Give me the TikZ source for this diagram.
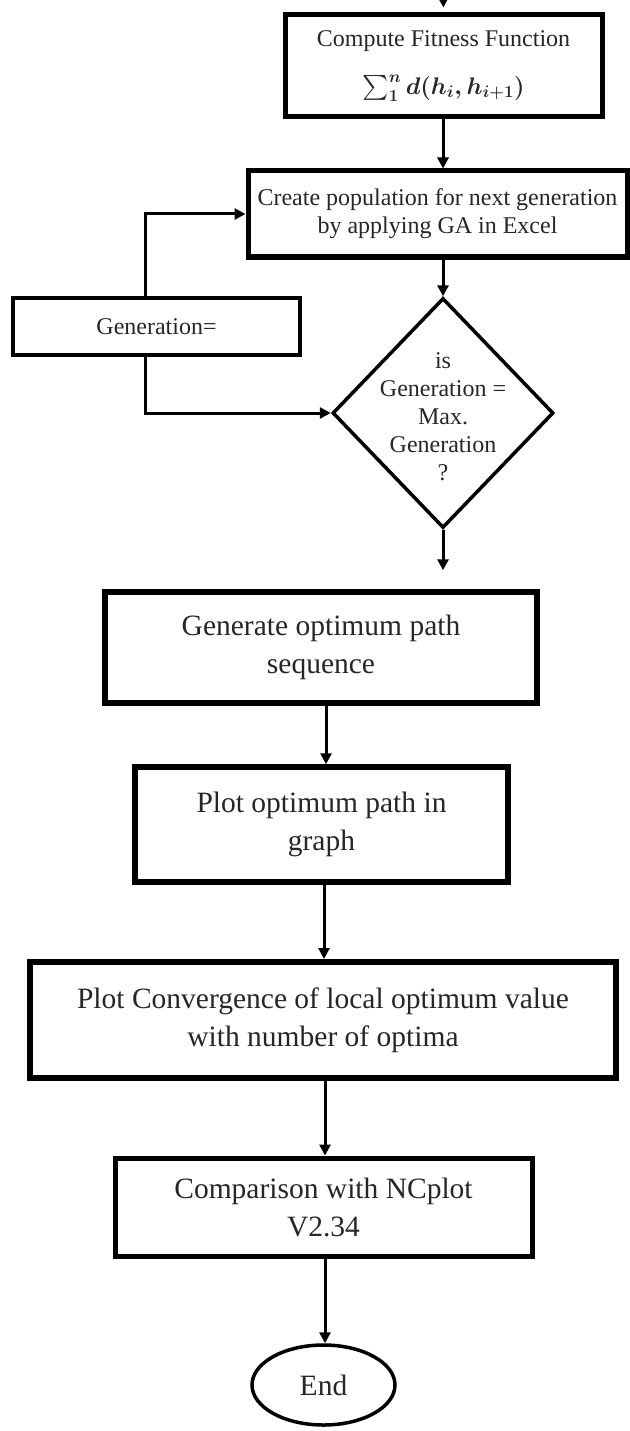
\documentclass[tikz,border=0pt]{standalone}
\usepackage{fix-cm}
\usepackage{amsmath}
\usepackage{fontspec}
\setmainfont{Liberation Serif}
\usetikzlibrary{shapes.geometric,arrows.meta}
\begin{document}
\begin{tikzpicture}[x=1pt,y=-1pt,
  box/.style={draw, line width=5pt, rectangle, inner sep=0pt, align=center, text=black!85},
  upper/.style={font=\fontsize{24}{28}\selectfont},
  lower/.style={font=\fontsize{29.5}{38}\selectfont},
  arr/.style={line width=3pt, -{Triangle[length=11pt,width=11pt]}}]
\useasboundingbox (0,0) rectangle (629,1431);
\coordinate (top) at (443,-20);
\node[box, upper, minimum width=317pt, minimum height=102pt] (fit) at (443.5,66)
  {Compute Fitness Function\\[20pt] $\boldsymbol{\textstyle\sum\nolimits_{1}^{n} d(h_i, h_{i+1})}$};
\node[box, upper, minimum width=379pt, minimum height=86pt] (pop) at (437.5,214)
  {Create population for next generation\\by applying GA in Excel};
\node[box, upper, line width=4.5pt, minimum width=287pt, minimum height=57pt] (gen) at (156.5,326.5)
  {Generation=};
\node[draw, diamond, line width=3.5pt, inner sep=0pt, minimum width=221pt, minimum height=230pt,
  label={[upper, align=center, text=black!85, yshift=-4pt]center:is\\Generation =\\Max.\\Generation\\?}] (dec) at (443,413) {};
\node[box, lower, line width=5.5pt, minimum width=432pt, minimum height=111pt] (opt) at (321,647.5)
  {Generate optimum path\\sequence};
\node[box, lower, line width=5.5pt, minimum width=373pt, minimum height=115pt] (plot) at (321.5,824.5)
  {Plot optimum path in\\graph};
\node[box, lower, line width=6pt, minimum width=586pt, minimum height=116pt] (conv) at (323,1020)
  {Plot Convergence of local optimum value\\with number of optima};
\node[box, lower, line width=5pt, minimum width=417pt, minimum height=98pt] (cmp) at (323.5,1207)
  {Comparison with NCplot\\V2.34};
\node[draw, ellipse, line width=3.5pt, inner sep=0pt, minimum width=143pt, minimum height=80pt, lower, text=black!85] (end) at (323.5,1385) {End};

\draw[arr, shorten >=5pt] (top) -- (fit.north);
\draw[arr] ([xshift=-0.5pt]fit.south) -- ([xshift=5.5pt]pop.north);
\draw[arr] ([xshift=5.5pt]pop.south) -- (dec.north);
\draw[arr] ([xshift=-11.5pt]gen.north) |- (pop.west);
\draw[arr] ([xshift=-11.5pt]gen.south) |- (dec.west);
\draw[arr, shorten >=19pt] (dec.south) -- (dec.south |- opt.north);
\draw[arr] ([xshift=5pt]opt.south) -- ([xshift=4.5pt]plot.north);
\draw[arr] ([xshift=2.5pt]plot.south) -- ([xshift=1pt]conv.north);
\draw[arr] ([xshift=2pt]conv.south) -- ([xshift=1.5pt]cmp.north);
\draw[arr] ([xshift=1.5pt]cmp.south) -- ([xshift=1.5pt]end.north);
\end{tikzpicture}
\end{document}
